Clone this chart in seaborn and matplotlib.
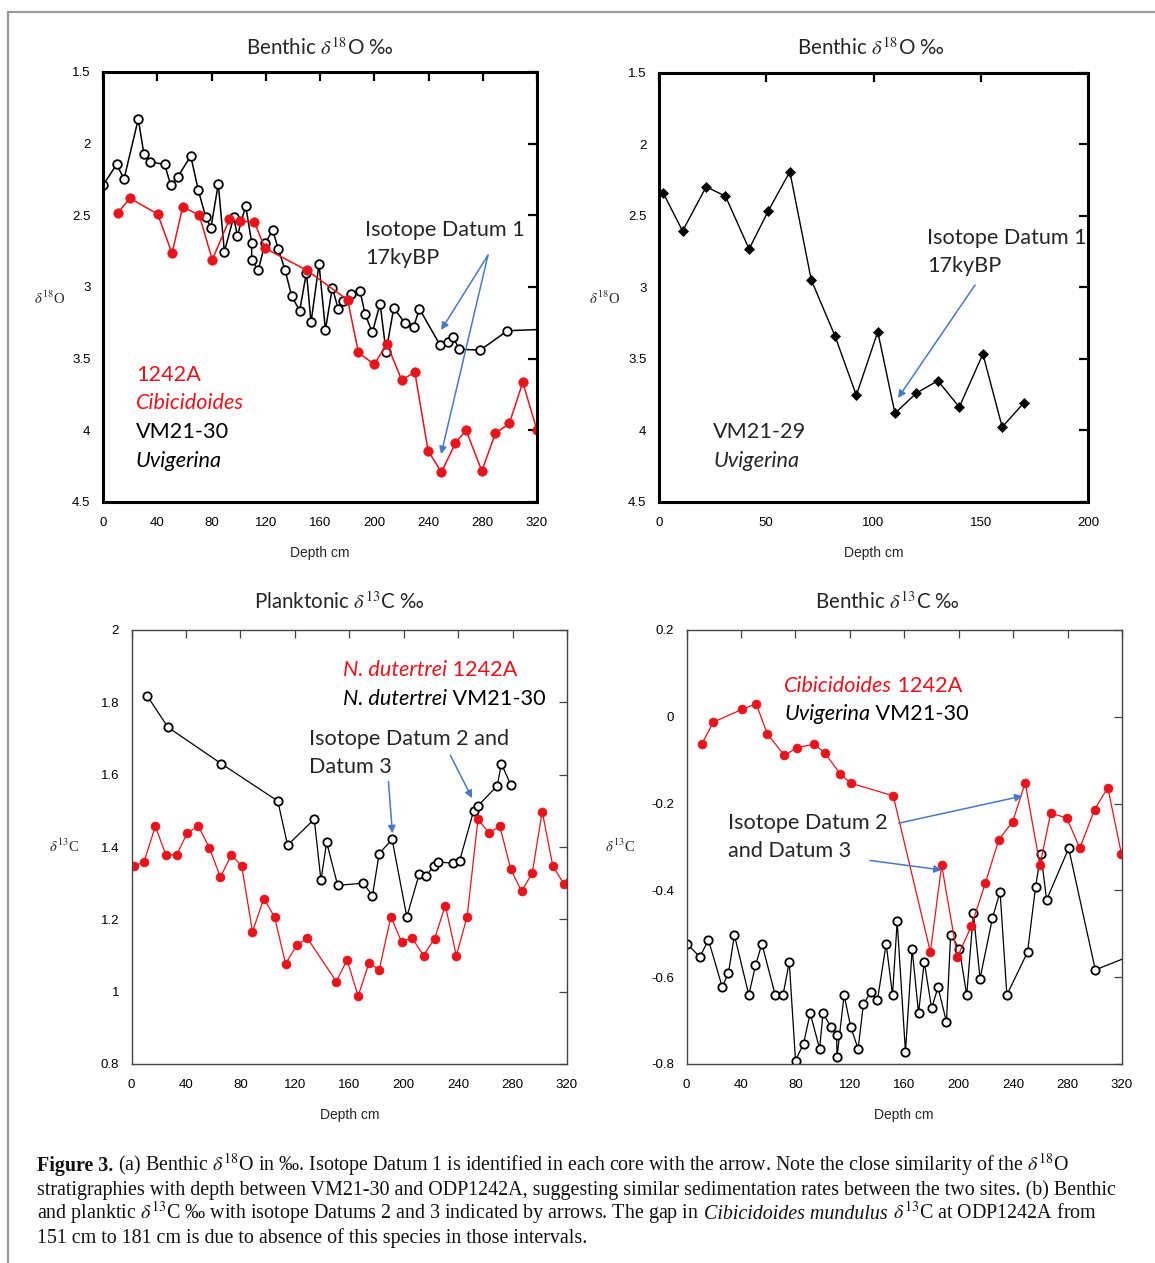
import matplotlib
matplotlib.use("Agg")
import matplotlib.pyplot as plt
import matplotlib.ticker as mticker
from matplotlib.lines import Line2D
import seaborn as sns
import pandas as pd

W, H, DPI = 1155, 1263, 100

# ---------------- data ----------------
# (a) benthic d18O, VM21-30 Uvigerina
a_vm_depth = [0, 10.1, 15.5, 26, 30.2, 34.7, 45.5, 49.9, 55, 64.7, 70.3, 75.7, 79.6, 85, 89.5,
              96.4, 99, 105.2, 109.6, 109.6, 114.5, 119.5, 125.1, 129.3, 134.2, 139.1, 145, 150,
              153.4, 159.3, 164, 169.1, 173.5, 177.2, 182.9, 189.5, 193.2, 198.6, 204.3, 208.7,
              214.4, 222.7, 229.1, 233.3, 248.5, 254.2, 258.1, 262.8, 278.2, 298.2, 340]
a_vm_d18o = [2.29, 2.144, 2.247, 1.828, 2.074, 2.128, 2.144, 2.29, 2.233, 2.086, 2.326, 2.51, 2.586,
             2.28, 2.754, 2.51, 2.644, 2.433, 2.69, 2.814, 2.88, 2.695, 2.603, 2.737, 2.88, 3.063,
             3.165, 2.9, 3.247, 2.84, 3.298, 3.005, 3.156, 3.096, 3.047, 3.026, 3.189, 3.317, 3.117,
             3.452, 3.145, 3.254, 3.277, 3.152, 3.405, 3.382, 3.351, 3.435, 3.44, 3.305, 3.29]
# (a) benthic d18O, ODP1242A Cibicidoides
a_odp_depth = [10.8, 19.9, 40.3, 50.9, 58.8, 71, 80.6, 93.2, 100.8, 111.6, 119.5, 150.4, 180.4,
               188.3, 199.9, 209.4, 220.3, 229.9, 239.7, 249.5, 259.8, 267.7, 279.3, 289.3, 299.6,
               309.5, 320]
a_odp_d18o = [2.484, 2.381, 2.491, 2.765, 2.44, 2.5, 2.81, 2.528, 2.54, 2.547, 2.73, 2.884, 3.09,
              3.456, 3.54, 3.398, 3.65, 3.593, 4.142, 4.293, 4.09, 3.998, 4.284, 4.021, 3.952,
              3.665, 4.0]
# (b) benthic d18O, VM21-29 Uvigerina
b_depth = [2, 11, 22, 31, 42, 51, 61, 71, 82, 92, 102, 110, 120, 130, 140, 151, 160, 170]
b_d18o = [2.34, 2.605, 2.295, 2.362, 2.731, 2.463, 2.19, 2.948, 3.337, 3.754, 3.309, 3.88, 3.738,
          3.652, 3.836, 3.465, 3.976, 3.808]
# (c) planktonic d13C, N. dutertrei VM21-30
c_vm_depth = [11.5, 26.8, 66.1, 107.5, 114.7, 134.3, 139.2, 143.4, 151.5, 170.4, 177, 182, 191.5,
              202.3, 211.4, 216.3, 222, 225.2, 236.2, 241.1, 251.4, 254.6, 268.7, 271.8, 278.7]
c_vm_d13c = [1.818, 1.731, 1.630, 1.527, 1.405, 1.477, 1.308, 1.413, 1.294, 1.30, 1.265, 1.382,
             1.421, 1.207, 1.325, 1.319, 1.348, 1.359, 1.355, 1.362, 1.5, 1.514, 1.569, 1.630, 1.572]
# (c) planktonic d13C, N. dutertrei ODP1242A
c_odp_depth = [1.5, 9.1, 17.5, 25.3, 33.1, 41, 49.1, 57.2, 65.3, 73.4, 81, 88.9, 97.2, 105.1,
               113.2, 121.3, 129.2, 150.5, 158.4, 166.5, 174.6, 182, 190.6, 198.4, 206, 214.6,
               222.7, 230.6, 238.7, 246.6, 254.6, 262.8, 270.6, 278.7, 286.6, 294.4, 301.8, 309.6,
               317.7, 328]
c_odp_d13c = [1.347, 1.358, 1.457, 1.378, 1.378, 1.439, 1.458, 1.398, 1.317, 1.378, 1.347, 1.166,
              1.257, 1.207, 1.077, 1.128, 1.148, 1.028, 1.088, 0.988, 1.08, 1.06, 1.207, 1.138,
              1.149, 1.1, 1.147, 1.238, 1.1, 1.207, 1.477, 1.438, 1.458, 1.338, 1.278, 1.327,
              1.498, 1.347, 1.298, 1.36]
# (d) benthic d13C, Uvigerina VM21-30
d_vm_depth = [0.1, 9.9, 16.1, 26.2, 30.8, 35.2, 45.8, 50.7, 55.4, 65.2, 70.9, 75.5, 80.1, 86, 90.9,
              97.8, 100.3, 106.2, 110.3, 110.6, 115.8, 120.7, 126.1, 130, 135.7, 140.3, 146.7,
              151.4, 154.8, 160.9, 165.8, 170.5, 174.7, 180.1, 184.8, 191, 194.1, 200.5, 205.9,
              210.8, 215.7, 224.8, 230.4, 235.4, 250.6, 256.5, 260.4, 264.6, 280.8, 300.4, 335]
d_vm_d13c = [-0.523, -0.553, -0.514, -0.622, -0.591, -0.503, -0.641, -0.573, -0.523, -0.641,
             -0.641, -0.565, -0.792, -0.753, -0.683, -0.765, -0.683, -0.715, -0.734, -0.784,
             -0.641, -0.715, -0.765, -0.662, -0.633, -0.653, -0.523, -0.641, -0.471, -0.773,
             -0.535, -0.683, -0.564, -0.672, -0.623, -0.703, -0.502, -0.535, -0.641, -0.453,
             -0.603, -0.464, -0.403, -0.641, -0.542, -0.392, -0.315, -0.422, -0.303, -0.583, -0.54]
# (d) benthic d13C, Cibicidoides ODP1242A
d_odp_depth = [11.2, 19.8, 40.7, 51.2, 59.3, 72, 81.2, 93.9, 101.5, 113.1, 120.7, 151.9, 179.2,
               187.5, 199.1, 209.2, 219.5, 229.5, 239.6, 248.9, 259.7, 267.6, 279.4, 289, 299.8,
               309.6, 319.5]
d_odp_d13c = [-0.063, -0.012, 0.017, 0.030, -0.039, -0.089, -0.071, -0.063, -0.083, -0.132, -0.153,
              -0.182, -0.542, -0.342, -0.553, -0.483, -0.384, -0.283, -0.242, -0.152, -0.342,
              -0.222, -0.233, -0.303, -0.214, -0.163, -0.315]

RED = "#e8141b"
BLUE = "#4a78c8"
ANNOT_FONT = "Lato"
TICK_FONT = "Liberation Sans"
SERIF = "Liberation Serif"

sns.set_theme(style="white")
plt.rcParams["axes.unicode_minus"] = False
plt.rcParams["font.family"] = [TICK_FONT, "DejaVu Sans"]

fig = plt.figure(figsize=(W / DPI, H / DPI), dpi=DPI)
fig.patch.set_facecolor("white")


def axes_px(left, top, right, bottom):
    return fig.add_axes([left / W, 1 - bottom / H, (right - left) / W, (bottom - top) / H])


ax_a = axes_px(103, 72, 537, 502)
ax_b = axes_px(659, 73, 1088, 502)
ax_c = axes_px(131.5, 630, 567, 1064)
ax_d = axes_px(686.5, 630, 1122, 1064)


def style_axes(ax, heavy):
    ax.set_facecolor("white")
    col = "black" if heavy else "#444444"
    lw = 2.2 if heavy else 1.0
    for sp in ax.spines.values():
        sp.set_visible(True)
        sp.set_color(col)
        sp.set_linewidth(lw)
    ax.tick_params(axis="both", which="major", direction="in", top=True, right=True,
                   length=6.5 if heavy else 5.5, width=1.6 if heavy else 0.9, color=col,
                   labelsize=9.5, labelcolor="black", pad=9)
    ax.tick_params(axis="x", pad=11)
    ax.grid(False)
    ax.yaxis.set_major_formatter(mticker.FuncFormatter(lambda v, p: f"{v:g}"))
    ax.xaxis.set_major_formatter(mticker.FuncFormatter(lambda v, p: f"{v:g}"))
    ax.set_xlabel("Depth cm", fontsize=10, labelpad=12)
    ax.set_ylabel("")


def series(ax, x, y, open_marker, marker="o", ms=6.5, lw=1.0, color="black"):
    df = pd.DataFrame({"depth": x, "value": y})
    if open_marker:
        kw = dict(markerfacecolor="white", markeredgecolor=color, markeredgewidth=1.3)
    else:
        kw = dict(markerfacecolor=color, markeredgecolor=color, markeredgewidth=0.5)
    sns.lineplot(data=df, x="depth", y="value", ax=ax, estimator=None, sort=False,
                 color=color, marker=marker, markersize=ms, linewidth=lw, errorbar=None,
                 legend=False, **kw)


# (a)
series(ax_a, a_vm_depth, a_vm_d18o, True, ms=6.2, lw=1.1)
series(ax_a, a_odp_depth, a_odp_d18o, False, ms=6.8, lw=1.1, color=RED)
ax_a.set_xlim(0, 320)
ax_a.set_ylim(4.5, 1.5)
ax_a.xaxis.set_major_locator(mticker.MultipleLocator(40))
ax_a.yaxis.set_major_locator(mticker.MultipleLocator(0.5))
style_axes(ax_a, True)

# (b)
series(ax_b, b_depth, b_d18o, False, marker="D", ms=5.2, lw=1.0)
ax_b.set_xlim(0, 200)
ax_b.set_ylim(4.5, 1.5)
ax_b.xaxis.set_major_locator(mticker.MultipleLocator(50))
ax_b.yaxis.set_major_locator(mticker.MultipleLocator(0.5))
style_axes(ax_b, True)

# (c)
series(ax_c, c_vm_depth, c_vm_d13c, True, ms=6.0, lw=0.9)
series(ax_c, c_odp_depth, c_odp_d13c, False, ms=6.4, lw=0.9, color=RED)
ax_c.set_xlim(0, 320)
ax_c.set_ylim(0.8, 2.0)
ax_c.xaxis.set_major_locator(mticker.MultipleLocator(40))
ax_c.yaxis.set_major_locator(mticker.MultipleLocator(0.2))
style_axes(ax_c, False)

# (d)
series(ax_d, d_vm_depth, d_vm_d13c, True, ms=6.0, lw=0.9)
series(ax_d, d_odp_depth, d_odp_d13c, False, ms=6.4, lw=0.9, color=RED)
ax_d.set_xlim(0, 320)
ax_d.set_ylim(-0.8, 0.2)
ax_d.xaxis.set_major_locator(mticker.MultipleLocator(40))
ax_d.yaxis.set_major_locator(mticker.MultipleLocator(0.2))
style_axes(ax_d, False)

renderer = fig.canvas.get_renderer()


def runs(x, y, pieces, **base):
    """Write styled pieces one after another on a shared baseline (x, y in display pixels)."""
    cx = x
    for s, style in pieces:
        kw = dict(base)
        kw.update(style)
        t = fig.text(cx / W, y / H, s, ha="left", va="baseline", **kw)
        cx += t.get_window_extent(renderer).width
    return cx


def runs_data(ax, x, y, pieces, **base):
    px, py = ax.transData.transform((x, y))
    return runs(px, py, pieces, **base)


ANN = dict(fontfamily=ANNOT_FONT, fontsize=15.6, math_fontfamily="stix")
TTL = dict(fontfamily=ANNOT_FONT, fontsize=14.8, math_fontfamily="stix")
IT = {"fontstyle": "italic"}
REG = {}

# titles
for ax, cx, title in [(ax_a, 320, r"Benthic $\delta^{18}$O ‰"), (ax_b, 871, r"Benthic $\delta^{18}$O ‰"),
                      (ax_c, 339, r"Planktonic $\delta^{13}$C ‰"), (ax_d, 887, r"Benthic $\delta^{13}$C ‰")]:
    ty = 48 if ax in (ax_a, ax_b) else 602
    fig.text(cx / W, 1 - ty / H, title, ha="center", va="center", **TTL)

# y labels
for ax, lx, ly, lab in [(ax_a, 50, 298, r"$\delta^{18}$O"), (ax_b, 605, 298, r"$\delta^{18}$O"),
                        (ax_c, 64, 846, r"$\delta^{13}$C"), (ax_d, 620, 846, r"$\delta^{13}$C")]:
    fig.text(lx / W, 1 - ly / H, lab, ha="center", va="center", fontfamily=SERIF,
             fontsize=10.5, math_fontfamily="stix")

# (a) annotations
ax_a.text(193, 2.60, "Isotope Datum 1", ha="left", va="center", **ANN)
ax_a.text(193, 2.80, "17kyBP", ha="left", va="center", **ANN)
for end in [(249.3, 3.30), (249.3, 4.166)]:
    ax_a.annotate("", xy=end, xytext=(283.9, 2.777),
                  arrowprops=dict(arrowstyle="-|>", color=BLUE, lw=1.1, mutation_scale=11,
                                  shrinkA=0, shrinkB=0))
ax_a.text(24.3, 3.614, "1242A", color=RED, ha="left", va="center", **ANN)
ax_a.text(24.3, 3.81, "Cibicidoides", color=RED, ha="left", va="center", fontstyle="italic", **ANN)
ax_a.text(24.3, 4.012, "VM21-30", color="black", ha="left", va="center", **ANN)
ax_a.text(24.3, 4.215, "Uvigerina", color="black", ha="left", va="center", fontstyle="italic", **ANN)

# (b) annotations
ax_b.text(124.9, 2.654, "Isotope Datum 1", ha="left", va="center", **ANN)
ax_b.text(124.9, 2.85, "17kyBP", ha="left", va="center", **ANN)
ax_b.annotate("", xy=(111.4, 3.773), xytext=(147.3, 2.983),
              arrowprops=dict(arrowstyle="-|>", color=BLUE, lw=1.1, mutation_scale=11,
                              shrinkA=0, shrinkB=0))
ax_b.text(25.2, 4.01, "VM21-29", ha="left", va="center", **ANN)
ax_b.text(25.2, 4.213, "Uvigerina", ha="left", va="center", fontstyle="italic", **ANN)

# (c) annotations
runs_data(ax_c, 155.4, 1.872, [("N. dutertrei", IT), (" 1242A", REG)], color=RED, **ANN)
runs_data(ax_c, 155.4, 1.792, [("N. dutertrei", IT), (" VM21-30", REG)], color="black", **ANN)
ax_c.text(130.4, 1.699, "Isotope Datum 2 and", ha="left", va="center", **ANN)
ax_c.text(130.4, 1.621, "Datum 3", ha="left", va="center", **ANN)
for start, end in [((188.8, 1.581), (191.7, 1.438)), ((234.3, 1.654), (250.2, 1.535))]:
    ax_c.annotate("", xy=end, xytext=start,
                  arrowprops=dict(arrowstyle="-|>", color=BLUE, lw=1.1, mutation_scale=11,
                                  shrinkA=0, shrinkB=0))

# (d) annotations
runs_data(ax_d, 71.8, 0.058, [("Cibicidoides", IT), (" 1242A", REG)], color=RED, **ANN)
runs_data(ax_d, 71.8, -0.007, [("Uvigerina", IT), (" VM21-30", REG)], color="black", **ANN)
ax_d.text(30.4, -0.245, "Isotope Datum 2", ha="left", va="center", **ANN)
ax_d.text(30.4, -0.309, "and Datum 3", ha="left", va="center", **ANN)
for start, end in [((156, -0.245), (246.9, -0.1825)), ((134.8, -0.331), (187.5, -0.353))]:
    ax_d.annotate("", xy=end, xytext=start,
                  arrowprops=dict(arrowstyle="-|>", color=BLUE, lw=1.1, mutation_scale=11,
                                  shrinkA=0, shrinkB=0))

# frame around the figure panel
fig.add_artist(Line2D([8 / W, 8 / W], [0, 1 - 12 / H], color="#9a9a9a", lw=1.6,
                      transform=fig.transFigure))
fig.add_artist(Line2D([8 / W, 1], [1 - 12 / H, 1 - 12 / H], color="#9a9a9a", lw=1.6,
                      transform=fig.transFigure))

# caption
CAP = dict(fontfamily=SERIF, fontsize=14.4, math_fontfamily="stix", color="#111111")
BOLD = {"fontweight": "bold"}
cap_lines = [
    [("Figure 3.", BOLD),
     (r" (a) Benthic $\delta^{18}$O in ‰. Isotope Datum 1 is identified in each core with the arrow. "
      r"Note the close similarity of the $\delta^{18}$O", REG)],
    [("stratigraphies with depth between VM21-30 and ODP1242A, suggesting similar sedimentation "
      "rates between the two sites. (b) Benthic", REG)],
    [(r"and planktic $\delta^{13}$C ‰ with isotope Datums 2 and 3 indicated by arrows. The gap in", REG),
     (" Cibicidoides mundulus", IT), (r" $\delta^{13}$C at ODP1242A from", REG)],
    [("151 cm to 181 cm is due to absence of this species in those intervals.", REG)],
]
for i, line in enumerate(cap_lines):
    runs(37, H - (1171 + 24 * i), line, **CAP)

fig.savefig("out.png", dpi=DPI, facecolor="white")
